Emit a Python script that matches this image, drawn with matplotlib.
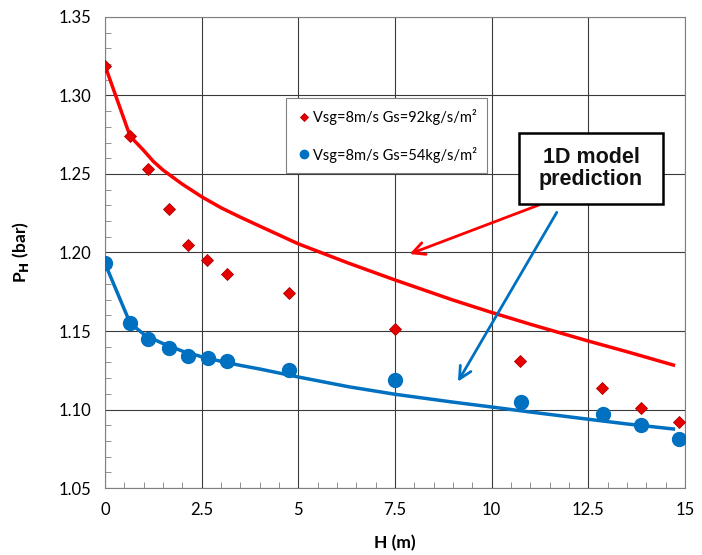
import matplotlib
matplotlib.use('Agg')
import matplotlib.pyplot as plt
from matplotlib.patches import Rectangle
from matplotlib.ticker import MultipleLocator, FixedLocator, FixedFormatter

plt.rcParams['font.family'] = ['Lato', 'DejaVu Sans']

# measured points
h_92 = [0, 0.65, 1.11, 1.65, 2.15, 2.64, 3.15, 4.76, 7.5, 10.73, 12.85, 13.86, 14.84]
p_92 = [1.319, 1.274, 1.253, 1.228, 1.205, 1.195, 1.186, 1.174, 1.151, 1.131, 1.114, 1.101, 1.092]

h_54 = [0, 0.65, 1.11, 1.65, 2.15, 2.67, 3.15, 4.76, 7.5, 10.75, 12.87, 13.87, 14.84]
p_54 = [1.193, 1.155, 1.145, 1.139, 1.134, 1.133, 1.131, 1.125, 1.119, 1.105, 1.097, 1.090, 1.081]

# 1D model curves
h_model = [0, 0.65, 1.0, 1.25, 1.5, 2.0, 2.5, 3.0, 3.5, 4.0, 5.0, 6.3, 7.5, 9.0, 10.0, 11.0, 12.5, 13.5, 14.7]
p_model_92 = [1.319, 1.274, 1.265, 1.258, 1.2525, 1.2435, 1.2355, 1.2285, 1.2225, 1.2168, 1.2055, 1.1932, 1.1825,
              1.1697, 1.1618, 1.1543, 1.1436, 1.1368, 1.1283]
p_model_54 = [1.193, 1.155, 1.148, 1.1448, 1.142, 1.1372, 1.1336, 1.1307, 1.1281, 1.1258, 1.1207, 1.1145, 1.1097,
              1.1047, 1.1016, 1.0984, 1.0938, 1.0908, 1.0876]

x_ticks = [0, 2.5, 5, 7.5, 10, 12.5, 15]
x_labels = ['0', '2.5', '5', '7.5', '10', '12.5', '15']
y_ticks = [1.05, 1.10, 1.15, 1.20, 1.25, 1.30, 1.35]

red = '#ff0000'
blue = '#0070c0'

fig = plt.figure(figsize=(7.02, 5.55), dpi=100)
ax = fig.add_axes([0.1496, 0.1207, 0.8262, 0.8487])

ax.plot(h_model, p_model_92, color=red, lw=2.5, zorder=3)
ax.plot(h_model, p_model_54, color=blue, lw=2.5, zorder=3)
ax.plot(h_92, p_92, 'D', color='#e60000', mec='#b00000', mew=0.6, ms=6.2, zorder=4,
        label='Vsg=8m/s Gs=92kg/s/m²')
ax.plot(h_54, p_54, 'o', color=blue, ms=10, zorder=4,
        label='Vsg=8m/s Gs=54kg/s/m²')

ax.set_xlim(0, 15)
ax.set_ylim(1.05, 1.35)
ax.xaxis.set_major_locator(FixedLocator(x_ticks))
ax.xaxis.set_major_formatter(FixedFormatter(x_labels))
ax.xaxis.set_minor_locator(MultipleLocator(0.5))
ax.yaxis.set_major_locator(FixedLocator(y_ticks))
ax.yaxis.set_minor_locator(MultipleLocator(0.01))
ax.yaxis.set_major_formatter(plt.FuncFormatter(lambda v, p: f'{v:.2f}'))
ax.tick_params(which='both', direction='in', color='#808080')
ax.tick_params(which='major', length=0, labelsize=12, pad=10)
ax.tick_params(which='minor', length=4)
ax.grid(True, which='major', color='#3a3a3a', lw=0.8)
for s in ax.spines.values():
    s.set_color('#808080')

ax.set_xlabel('H (m)', fontsize=12.5, fontweight='bold', labelpad=12)
ax.set_ylabel(r'P$_\mathbf{H}$ (bar)', fontsize=12.5, fontweight='bold', labelpad=20)

leg = ax.legend(loc='upper left', bbox_to_anchor=(0.3125, 0.827), fontsize=10.5,
                labelspacing=1.45, handletextpad=0.15, handlelength=0.9, markerscale=0.6,
                borderpad=0.75, borderaxespad=0, fancybox=False, framealpha=1, edgecolor='#808080')
leg.get_frame().set_linewidth(0.8)

# annotation box
ax.add_patch(Rectangle((10.71, 1.2309), 3.72, 0.0452, fc='white', ec='black', lw=1.8, zorder=6))
ax.text(12.57, 1.2537, '1D model\nprediction', ha='center', va='center',
        fontsize=15.5, fontweight='bold', family='Liberation Sans', color='#111111',
        linespacing=1.05, zorder=7)

ax.annotate('', xy=(7.81, 1.1984), xytext=(11.29, 1.2309),
            arrowprops=dict(arrowstyle='->', color=red, lw=2, mutation_scale=22), zorder=5)
ax.annotate('', xy=(9.09, 1.1162), xytext=(11.72, 1.2271),
            arrowprops=dict(arrowstyle='->', color=blue, lw=2, mutation_scale=22), zorder=5)

fig.savefig('out.png', dpi=100)
